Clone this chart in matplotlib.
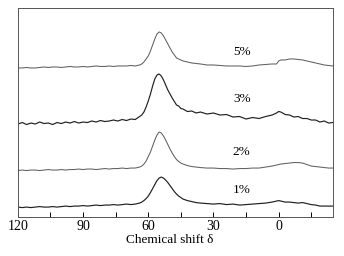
import numpy as np
import matplotlib
matplotlib.use('Agg')
import matplotlib.pyplot as plt
from matplotlib.ticker import MultipleLocator

plt.rcParams['font.family'] = ['Liberation Serif', 'DejaVu Serif']

# chemical shift grid (ppm)
shift = [120, 118, 116, 114, 112, 110, 108, 106, 104, 102, 100, 98, 96, 94, 92, 90, 88, 86, 84, 82, 80, 78, 76, 74, 72, 70, 68, 66,
         65, 64, 63, 62, 61, 60, 59, 58, 57, 56, 55, 54, 53, 52, 51, 50, 49, 48, 47, 46, 45, 44,
         42, 40, 38, 36, 33, 30, 27, 24, 21, 18, 15, 12, 9, 6, 3, 1, 0, -1,
         -3, -5, -7, -9, -11, -13, -15, -17, -19, -21, -23, -25]

# stacked intensities (a.u.)
int_5 = [149, 149, 149.5, 149, 149, 149.5, 150, 149.5, 150, 150, 149.5, 150, 150.5, 150, 150, 150.5, 150, 150.5, 151, 150.5, 150.5, 151, 150.5, 151, 151, 151, 151.5, 151,
         151.5, 152, 153, 155, 158, 161, 166, 172, 178, 183, 185, 184, 181, 177, 173, 169, 165, 162, 159, 158, 157, 156,
         155, 154, 153.5, 153, 152, 152, 151.5, 151, 151, 151, 150.5, 151, 152, 152.5, 153, 153, 156, 157,
         157, 158, 158, 157.5, 157, 156, 155, 154, 153, 152, 151.5, 151]
int_3 = [93, 94.5, 92.5, 94, 93, 95, 93.5, 94, 92.5, 94.5, 93.5, 95, 94, 95.5, 94, 95, 94.5, 96, 95, 96.5, 95.5, 96, 97, 96, 97.5, 96.5, 98, 97.5,
         99, 100.5, 102, 105, 110, 116, 123, 131, 138, 142, 143, 141, 137, 132, 127, 123, 119, 115.5, 112, 111, 108.5, 108,
         105.5, 106, 104, 105, 103, 104, 102, 102.5, 100, 100.5, 98, 99.5, 98.5, 100.5, 102, 104, 105.5, 105,
         102.5, 102, 100, 100.5, 98.5, 98.5, 97, 97, 95, 96, 94, 94.5]
int_2 = [46.5, 47, 46.5, 47, 47, 46.5, 47, 47.5, 47, 47, 47.5, 47, 47.5, 47.5, 48, 47.5, 48, 48, 47.5, 48, 48.5, 48, 48.5, 48.5, 49, 48.5, 49, 49,
         49.5, 50, 51, 53, 56, 60.5, 65, 71, 77, 82, 85, 84, 81, 77, 72.5, 68, 64, 60.5, 57.5, 55.5, 54, 53,
         51.5, 50.5, 50, 49.5, 49, 49, 48.5, 48.5, 48, 48.5, 48.5, 49, 49, 50, 51, 52, 52.5, 53,
         53.5, 54, 54.5, 54.5, 54, 52.5, 51, 50.5, 50, 49.5, 49, 49]
int_1 = [10, 9.5, 10, 9.5, 10, 10.5, 10, 10, 10.5, 10, 10.5, 11, 10.5, 11, 11, 11.5, 11, 11.5, 12, 11.5, 12, 12, 12.5, 12, 12.5, 13, 12.5, 13,
         13.5, 14, 15, 16.5, 18.5, 21, 24.5, 28.5, 32.5, 36.5, 39, 40, 39, 37, 34.5, 31.5, 28.5, 25.5, 23, 21, 19.5, 18,
         16.5, 15.5, 14.5, 14, 13.5, 13, 13.5, 12.5, 13, 12, 12.5, 13, 13.5, 14, 15, 16, 16.5, 16,
         15, 15, 14.5, 14, 14.5, 13.5, 12.5, 12, 11, 11, 11, 11]

labels = ['5%', '3%', '2%', '1%']
label_y = [165, 118, 65, 27]
label_x = 17

fig = plt.figure(figsize=(3.44, 2.56), dpi=100)
ax = fig.add_axes([0.052, 0.152, 0.916, 0.817])

ax.plot(shift, int_5, color='#606060', lw=0.75)
ax.plot(shift, int_3, color='#202020', lw=0.85)
ax.plot(shift, int_2, color='#606060', lw=0.75)
ax.plot(shift, int_1, color='#202020', lw=0.85)

for lab, yy in zip(labels, label_y):
    ax.text(label_x, yy, lab, ha='center', va='center', fontsize=9.5)

ax.set_xlim(120, -25)
ax.set_ylim(0, 209)
ax.xaxis.set_major_locator(MultipleLocator(30))
ax.xaxis.set_minor_locator(MultipleLocator(15))
ax.tick_params(axis='x', which='both', direction='in', length=3.5, width=0.7, labelsize=10, pad=2, top=False)
ax.set_yticks([])
for s in ax.spines.values():
    s.set_linewidth(0.7)
    s.set_color('#555555')
ax.set_xlabel('Chemical shift δ', fontsize=9.5, labelpad=0)
ax.xaxis.set_label_coords(0.483, -0.08)

plt.savefig('out.png', dpi=100)
